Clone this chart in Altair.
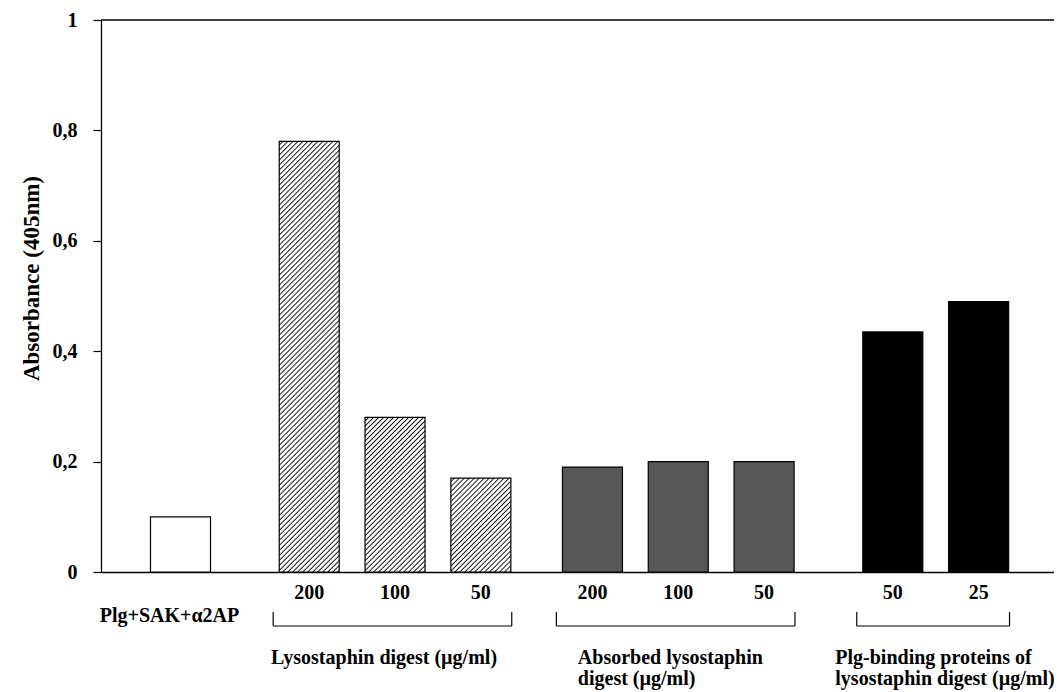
import altair as alt
import pandas as pd

# ---------------- data ----------------
group_keys = ["control", "lysostaphin", "absorbed", "plgbinding"]
group_labels = [
    "Plg+SAK+α2AP",
    "Lysostaphin digest (µg/ml)",
    "Absorbed lysostaphin\ndigest (µg/ml)",
    "Plg-binding proteins of\nlysostaphin digest (µg/ml)",
]
conc_labels = [[""], ["200", "100", "50"], ["200", "100", "50"], ["50", "25"]]
absorbance = [[0.10], [0.78, 0.28, 0.17], [0.19, 0.20, 0.20], [0.435, 0.49]]
y_ticks = [0, 0.2, 0.4, 0.6, 0.8, 1.0]
y_title = "Absorbance (405nm)"

# ---------------- layout / style ----------------
W, H = 953, 552
group_gaps = [0.5, 0.3, 0.5]          # extra space between groups (in bar slots)
x_domain = [-0.868, 10.12]
BAR_PX = 60
FONT = "Liberation Serif"
fills = {"control": "white", "absorbed": "#575757", "plgbinding": "black"}

# ---------------- build tables ----------------
rows = []
p = 0.0
for gi, key in enumerate(group_keys):
    for c, v in zip(conc_labels[gi], absorbance[gi]):
        rows.append({"group": key, "conc": c, "value": v, "pos": p})
        p += 1
    if gi < len(group_gaps):
        p += group_gaps[gi]
df = pd.DataFrame(rows)

grp = df.groupby("group", sort=False)["pos"].agg(["min", "max", "mean"]).reset_index()
grp["label"] = [group_labels[group_keys.index(g)] for g in grp["group"]]
grp["x0"] = grp["min"] - 0.42
grp["x1"] = grp["max"] + 0.36
grp["lx"] = grp["mean"] - 1.17
brackets = grp[grp["group"] != "control"]
ends = pd.DataFrame({"xe": list(brackets["x0"]) + list(brackets["x1"])})

xs = alt.Scale(domain=x_domain, nice=False, zero=False)
ys = alt.Scale(domain=[0, 1], nice=False)
xa = alt.Axis(labels=False, ticks=False, title=None, grid=False,
              domainColor="black", domainWidth=1.3)
ya = alt.Axis(values=y_ticks, title=y_title, grid=False,
              labelExpr="replace(format(datum.value, '.1~f'), '.', ',')",
              tickSize=8, tickColor="black", tickWidth=1.2,
              domainColor="black", domainWidth=1.3,
              labelPadding=16, labelFont=FONT, labelFontSize=20,
              labelFontWeight="bold", labelColor="black",
              titleFont=FONT, titleFontSize=23, titleFontWeight="bold",
              titleColor="black", titlePadding=9, titleY=258)

X = alt.X("pos:Q", scale=xs, axis=xa)
Y = alt.Y("value:Q", scale=ys, axis=ya)


def hatch(h_px, w_px=BAR_PX, period=5.0):
    """Diagonal (45 degree) stripes as a linear gradient in bounding-box units."""
    r = w_px / h_px
    b = (1 + r) / (1 + r * r)
    a = r * b
    n = max(1, round((w_px + h_px) / period))
    stops = []
    for i in range(n):
        stops += [
            {"offset": round(i / n, 6), "color": "white"},
            {"offset": round((i + 0.45) / n, 6), "color": "white"},
            {"offset": round((i + 0.72) / n, 6), "color": "#111111"},
            {"offset": round((i + 0.99) / n, 6), "color": "white"},
        ]
    return {"gradient": "linear", "x1": 0, "y1": 0, "x2": a, "y2": b, "stops": stops}


layers = []

plain = alt.Chart(df).transform_filter("datum.group != 'lysostaphin'").mark_bar(
    size=BAR_PX, stroke="black", strokeWidth=1.2
).encode(
    x=X, y=Y,
    fill=alt.Fill("group:N", scale=alt.Scale(domain=list(fills.keys()),
                                             range=list(fills.values())), legend=None),
)
layers.append(plain)

for _, r in df[df["group"] == "lysostaphin"].iterrows():
    sub = df[(df["group"] == "lysostaphin") & (df["pos"] == r["pos"])]
    layers.append(
        alt.Chart(sub).mark_bar(size=BAR_PX, stroke="black", strokeWidth=1.2,
                                fill=hatch(r["value"] * H)).encode(x=X, y=Y)
    )

top_line = alt.Chart(pd.DataFrame({"value": [1.0]})).mark_rule(
    color="black", strokeWidth=1.3).encode(y=Y)
layers.append(top_line)

txt = dict(font=FONT, fontSize=20, fontWeight="bold", color="black")

conc = alt.Chart(df).transform_filter("datum.group != 'control'").mark_text(
    align="center", baseline="alphabetic", **txt
).encode(x=X, y=alt.value(579), text="conc:N")
layers.append(conc)

ctrl = alt.Chart(grp[grp["group"] == "control"]).mark_text(
    align="center", baseline="alphabetic", dx=-11, **txt
).encode(x=alt.X("mean:Q", scale=xs, axis=xa), y=alt.value(602), text="label:N")
layers.append(ctrl)

single = alt.Chart(grp[grp["group"] == "lysostaphin"]).mark_text(
    align="center", baseline="alphabetic", dx=-11, **txt
).encode(x=alt.X("mean:Q", scale=xs, axis=xa), y=alt.value(644), text="label:N")
layers.append(single)

multi = alt.Chart(grp[grp["group"].isin(["absorbed", "plgbinding"])]).mark_text(
    align="left", baseline="alphabetic", lineBreak="\n", lineHeight=21, **txt
).encode(x=alt.X("lx:Q", scale=xs, axis=xa), y=alt.value(644), text="label:N")
layers.append(multi)

br_h = alt.Chart(brackets).mark_rule(color="black", strokeWidth=1.2).encode(
    x=alt.X("x0:Q", scale=xs, axis=xa), x2="x1:Q", y=alt.value(606))
br_v = alt.Chart(ends).mark_rule(color="black", strokeWidth=1.2).encode(
    x=alt.X("xe:Q", scale=xs, axis=xa), y=alt.value(592), y2=alt.value(606))
layers += [br_h, br_v]

chart = alt.layer(*layers).properties(
    width=W, height=H,
    padding={"left": 93, "top": 12, "right": 0, "bottom": 120},
    autosize=alt.AutoSizeParams(type="none"),
    background="white",
).configure_view(stroke=None)

chart.save("out.html", embed_options={"renderer": "svg", "actions": False})
